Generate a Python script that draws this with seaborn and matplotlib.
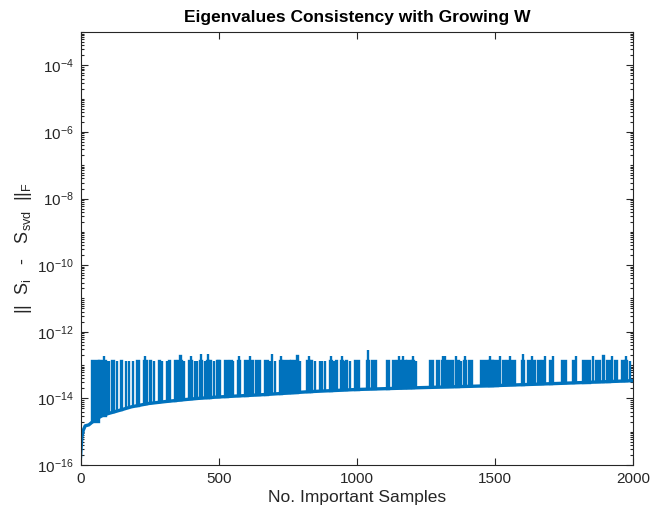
import numpy as np
import matplotlib
matplotlib.use("Agg")
import matplotlib.pyplot as plt
import matplotlib.ticker as mticker
import seaborn as sns

# baseline (sample index, value)
base_n = [0, 2, 5, 10, 17, 30, 41, 60, 77, 100, 125, 185, 246, 306, 366, 426,
          497, 665, 834, 1000, 1231, 1490, 1725, 2000]
base_val = [1.6e-16, 3e-16, 7e-16, 1.1e-15, 1.5e-15, 1.6e-15, 1.9e-15, 2.5e-15,
            3e-15, 3.5e-15, 4e-15, 5.6e-15, 7e-15, 8e-15, 9e-15, 1e-14,
            1.1e-14, 1.3e-14, 1.6e-14, 1.85e-14, 2.1e-14, 2.4e-14, 2.8e-14, 3.4e-14]

# spikes: first index, last index, peak value
spike_start = [42, 68, 78, 84, 96, 102, 114, 132, 148, 165, 174, 189, 205, 229, 234, 238,
               253, 265, 285, 295, 313, 322, 343, 353, 361, 374, 392, 399, 413, 422, 434,
               437, 450, 458, 461, 470, 482, 494,
               498, 524, 540, 552, 570, 573, 594, 612, 618, 636, 667, 685, 693, 703, 721,
               724, 733, 763, 773, 785, 793, 821, 826, 836, 848, 866, 874, 884, 902, 905,
               918, 926, 944, 947, 956, 962, 974, 993,
               1038, 1041, 1056, 1111, 1132, 1147, 1152, 1165, 1166, 1183, 1201, 1203,
               1213, 1265, 1289, 1310, 1313, 1318, 1334, 1358, 1360, 1376, 1388, 1391,
               1406, 1449, 1479, 1482,
               1482, 1519, 1528, 1543, 1555, 1561, 1597, 1600, 1621, 1633, 1639, 1657,
               1669, 1681, 1700, 1711, 1742, 1782, 1794, 1818, 1854, 1866, 1893, 1905,
               1923, 1935, 1959, 1971, 1974, 1989]
spike_end = [66, 68, 90, 84, 96, 102, 120, 132, 148, 165, 174, 189, 211, 233, 234, 238,
             253, 265, 285, 295, 313, 322, 343, 365, 361, 374, 404, 399, 413, 422, 440,
             437, 450, 464, 461, 470, 482, 500,
             504, 534, 546, 552, 576, 573, 606, 612, 624, 649, 679, 685, 693, 703, 727,
             724, 757, 763, 787, 785, 793, 830, 826, 836, 848, 866, 874, 884, 908, 905,
             918, 926, 950, 947, 956, 962, 974, 1008,
             1044, 1041, 1069, 1117, 1137, 1159, 1152, 1177, 1166, 1195, 1207, 1203,
             1213, 1274, 1298, 1326, 1313, 1318, 1346, 1370, 1360, 1376, 1394, 1391,
             1418, 1473, 1491, 1482,
             1512, 1519, 1537, 1549, 1555, 1573, 1603, 1600, 1627, 1633, 1645, 1663,
             1675, 1681, 1706, 1711, 1757, 1786, 1794, 1844, 1854, 1880, 1893, 1917,
             1923, 1941, 1965, 1977, 1974, 1989]
spike_top = [1.3e-13, 1.3e-13, 1.3e-13, 1.9e-13, 1.3e-13, 1.3e-13, 1.3e-13, 1.3e-13, 1.3e-13,
             1.3e-13, 1.3e-13, 1.3e-13, 1.3e-13, 1.3e-13, 1.9e-13, 1.3e-13,
             1.3e-13, 1.3e-13, 1.3e-13, 1.3e-13, 1.3e-13, 1.3e-13, 1.3e-13, 1.3e-13, 1.9e-13,
             1.3e-13, 1.3e-13, 1.9e-13, 1.3e-13, 1.3e-13, 1.3e-13,
             2.2e-13, 1.3e-13, 1.3e-13, 2.2e-13, 1.3e-13, 1.3e-13, 1.3e-13,
             1.3e-13, 1.3e-13, 1.3e-13, 1.3e-13, 1.3e-13, 1.9e-13, 1.3e-13, 1.9e-13, 1.3e-13,
             1.3e-13, 1.3e-13, 1.3e-13, 2.2e-13, 1.3e-13, 1.3e-13,
             1.9e-13, 1.3e-13, 1.3e-13, 1.3e-13, 1.9e-13, 1.3e-13, 1.3e-13, 1.9e-13, 1.3e-13,
             1.3e-13, 1.3e-13, 1.3e-13, 1.3e-13, 1.3e-13, 1.9e-13,
             1.3e-13, 1.3e-13, 1.3e-13, 1.9e-13, 1.3e-13, 1.3e-13, 1.3e-13, 1.3e-13,
             1.3e-13, 2.8e-13, 1.3e-13, 1.3e-13, 1.3e-13, 1.3e-13, 1.9e-13, 1.3e-13, 1.9e-13,
             1.3e-13, 1.3e-13, 1.9e-13,
             1.3e-13, 1.3e-13, 1.3e-13, 1.3e-13, 1.9e-13, 1.9e-13, 1.3e-13, 1.3e-13, 1.9e-13,
             1.3e-13, 1.3e-13, 1.9e-13,
             1.3e-13, 1.3e-13, 1.3e-13, 1.9e-13,
             1.3e-13, 1.9e-13, 1.3e-13, 1.3e-13, 1.9e-13, 1.3e-13, 1.3e-13, 2.2e-13, 1.3e-13,
             1.9e-13, 1.3e-13, 1.3e-13,
             1.3e-13, 1.9e-13, 1.3e-13, 1.9e-13, 1.3e-13, 1.3e-13, 1.9e-13, 1.3e-13, 1.9e-13,
             1.3e-13, 1.9e-13, 1.3e-13,
             1.9e-13, 1.3e-13, 1.3e-13, 1.3e-13, 1.9e-13, 1.3e-13]

x_ticks = [0, 500, 1000, 1500, 2000]
y_ticks = [1e-16, 1e-14, 1e-12, 1e-10, 1e-8, 1e-6, 1e-4]

BLUE = "#0072BD"
INK = "#262626"

sns.set_theme(style="ticks")
plt.rcParams["font.family"] = ["Liberation Sans", "DejaVu Sans"]
plt.rcParams["mathtext.default"] = "regular"

fig = plt.figure(figsize=(6.51, 5.12), dpi=100)
ax = fig.add_axes([80.5 / 651, 1 - 465 / 512, 552.5 / 651, 433 / 512])

# baseline
sns.lineplot(x=base_n, y=base_val, ax=ax, color=BLUE, linewidth=2.4, estimator=None)

# spikes from the baseline up to their peak
s0 = np.array(spike_start, dtype=float)
s1 = np.array(spike_end, dtype=float)
top = np.array(spike_top)
bottom = 10 ** np.interp(s0, base_n, np.log10(base_val))
ax.bar(s0, top - bottom, width=s1 - s0 + 1, bottom=bottom, align="edge",
       color=BLUE, edgecolor=BLUE, linewidth=1.7, zorder=2)

ax.set_yscale("log")
ax.set_xlim(0, 2000)
ax.set_ylim(1e-16, 1e-3)
ax.set_xticks(x_ticks)
ax.set_yticks(y_ticks)
ax.yaxis.set_minor_locator(mticker.LogLocator(base=10, subs=np.arange(1, 10), numticks=100))
ax.yaxis.set_minor_formatter(mticker.NullFormatter())

for sp in ax.spines.values():
    sp.set_visible(True)
    sp.set_color(INK)
    sp.set_linewidth(0.8)
ax.tick_params(which="both", direction="in", top=True, right=True, color=INK,
               labelcolor=INK, labelsize=11, width=0.8)
ax.tick_params(which="major", length=5, pad=5)
ax.tick_params(which="minor", length=2.5)

ax.set_title("Eigenvalues Consistency with Growing W", fontsize=12.5,
             fontweight="bold", color="black", pad=7)
ax.set_xlabel("No. Important Samples", fontsize=12.5, color=INK, labelpad=3)
ax.set_ylabel(r"||  S$_i$   -   S$_{svd}$  ||$_F$", fontsize=13, color=INK, labelpad=2)

fig.savefig("out.png", dpi=100)
